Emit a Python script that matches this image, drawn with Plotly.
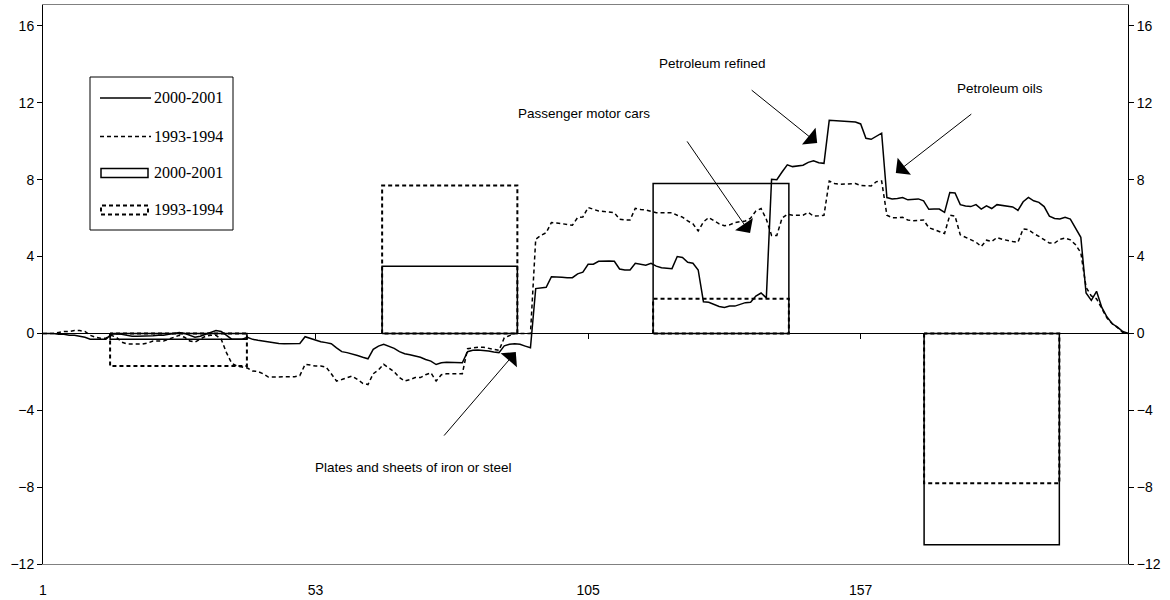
import plotly.graph_objects as go

# ---------------- data ----------------
positions = list(range(1, 209))
tick_values = [1, 53, 105, 157]
tick_labels = ["1", "53", "105", "157"]
y_ticks = [-12, -8, -4, 0, 4, 8, 12, 16]

series_2000_2001 = [
    0, 0, 0, -0.05, -0.05, -0.1, -0.1, -0.15, -0.2, -0.3,
    -0.3, -0.3, -0.3, -0.05, -0.02, -0.05, -0.12, -0.15, -0.15, -0.15,
    -0.15, -0.12, -0.1, -0.1, -0.05, 0, 0.05, 0, -0.1, -0.2,
    -0.15, -0.05, 0.05, 0.15, 0.1, -0.1, -0.3, -0.3, -0.3, -0.2,
    -0.31, -0.36, -0.41, -0.46, -0.5, -0.52, -0.54, -0.54, -0.54, -0.52,
    -0.17, -0.27, -0.36, -0.43, -0.48, -0.54, -0.75, -0.95, -1.0, -1.06,
    -1.15, -1.24, -1.32, -0.83, -0.66, -0.57, -0.66, -0.78, -0.95, -1.06,
    -1.11, -1.18, -1.24, -1.36, -1.44, -1.62, -1.53, -1.5, -1.5, -1.5,
    -1.53, -0.95, -0.88, -0.86, -0.88, -0.92, -0.97, -1.0, -0.65, -0.57,
    -0.54, -0.57, -0.66, -0.75, 2.33, 2.36, 2.4, 2.95, 2.95, 2.92,
    2.9, 2.9, 3.1, 3.19, 3.6, 3.6, 3.75, 3.77, 3.77, 3.75,
    3.35, 3.3, 3.3, 3.65, 3.6, 3.55, 3.65, 3.5, 3.42, 3.38,
    3.37, 4.0, 3.95, 3.7, 3.65, 3.3, 1.65, 1.62, 1.5, 1.4,
    1.35, 1.42, 1.42, 1.52, 1.6, 1.62, 1.94, 2.1, 1.85, 8.02,
    8.0, 8.4, 8.77, 8.68, 8.7, 8.75, 8.9, 8.98, 8.88, 8.85,
    11.09, 11.07, 11.05, 11.05, 11.02, 11.0, 10.9, 10.15, 10.1, 10.25,
    10.42, 7.07, 7.0, 7.02, 7.07, 6.95, 6.98, 7.0, 6.9, 6.46,
    6.47, 6.47, 6.3, 7.33, 7.31, 6.7, 6.63, 6.6, 6.7, 6.47,
    6.64, 6.5, 6.7, 6.65, 6.6, 6.58, 6.4, 6.85, 7.08, 6.9,
    6.82, 6.6, 6.1, 5.98, 5.95, 6.04, 5.95, 5.5, 5.0, 2.1,
    1.72, 2.19, 1.35, 0.85, 0.5, 0.33, 0.1, 0.0,
]

series_1993_1994 = [
    0, 0, 0, 0.05, 0.1, 0.1, 0.15, 0.15, 0.1, -0.1,
    -0.2, -0.25, -0.25, -0.1, -0.2, -0.45, -0.55, -0.55, -0.55, -0.55,
    -0.5, -0.4, -0.4, -0.4, -0.3, -0.2, -0.1, -0.2, -0.4, -0.45,
    -0.3, -0.15, -0.1, -0.1, -0.3, -1.0, -1.55, -1.7, -1.75, -1.8,
    -1.96, -1.98, -2.1, -2.27, -2.27, -2.27, -2.27, -2.27, -2.25, -2.2,
    -1.61, -1.65, -1.7, -1.7, -1.75, -2.1, -2.48, -2.4, -2.3, -2.22,
    -2.4, -2.6, -2.66, -2.1, -1.9, -1.61, -1.8, -2.0, -2.3, -2.48,
    -2.4, -2.3, -2.3, -2.15, -2.05, -2.48, -2.15, -2.1, -2.1, -2.1,
    -2.1, -0.8, -0.75, -0.72, -0.72, -0.78, -0.85, -0.88, -0.23, -0.1,
    0, 0, 0, 0, 4.9, 5.1, 5.24, 5.77, 5.75, 5.7,
    5.65, 5.63, 6.03, 6.06, 6.55, 6.45, 6.37, 6.35, 6.3, 6.28,
    5.94, 5.9, 5.9, 6.51, 6.45, 6.42, 6.35, 6.28, 6.28, 6.28,
    6.28, 6.15, 6.05, 5.85, 5.7, 5.33, 5.8, 6.03, 5.85, 5.7,
    5.6, 5.65, 5.77, 5.8, 5.85, 6.0, 6.37, 6.5, 5.94, 5.1,
    5.1, 6.0, 6.2, 6.15, 6.15, 6.15, 6.3, 6.1, 6.12, 6.15,
    7.93, 7.8, 7.76, 7.78, 7.8, 7.8, 7.7, 7.67, 7.67, 7.9,
    7.93, 6.15, 6.02, 6.02, 6.04, 5.9, 5.86, 5.88, 5.9, 5.5,
    5.4, 5.3, 5.2, 6.15, 6.1, 5.13, 5.0, 4.87, 4.75, 4.52,
    4.85, 4.78, 4.99, 4.9, 4.83, 4.78, 4.74, 5.44, 5.4, 5.2,
    5.05, 4.87, 4.7, 4.7, 4.9, 4.96, 4.87, 4.61, 4.2, 2.4,
    1.95, 1.8, 1.3, 0.8, 0.5, 0.3, 0.05, 0.0,
]

box_start = [13.8, 65.7, 117.4, 169.1]
box_end = [39.9, 91.5, 143.3, 194.9]
box_2000_2001 = [-0.3, 3.5, 7.8, -11.0]
box_1993_1994 = [-1.7, 7.7, 1.8, -7.8]

labels = ["2000-2001", "1993-1994"]

# ---------------- helpers ----------------
def box_path(starts, ends, values):
    xs, ys = [], []
    for s, e, v in zip(starts, ends, values):
        xs += [s, s, e, e, s, None]
        ys += [0, v, v, 0, 0, None]
    return xs, ys

W, H = 1170, 600
ML, MR, MT, MB = 43, 42, 5, 36
PLOT_W = W - ML - MR
PLOT_H = H - MT - MB


def px_x(px):
    return (px - ML) / PLOT_W


def px_y(py):
    return (H - MB - py) / PLOT_H


Y_RANGE = [-12, 17.09]
X_RANGE = [1, 208]
sans = "Liberation Sans, Arial, sans-serif"
serif = "Liberation Serif, Times New Roman, serif"

fig = go.Figure()

fig.add_trace(go.Scatter(
    x=positions, y=series_2000_2001, mode="lines", name=labels[0],
    line=dict(color="black", width=1.5), showlegend=False,
))
fig.add_trace(go.Scatter(
    x=positions, y=series_1993_1994, mode="lines", name=labels[1],
    line=dict(color="black", width=1.5, dash="4px,3px"), showlegend=False,
))
bx, by = box_path(box_start, box_end, box_2000_2001)
fig.add_trace(go.Scatter(
    x=bx, y=by, mode="lines", name=labels[0],
    line=dict(color="black", width=1.5), showlegend=False, xaxis="x2",
))
bx2, by2 = box_path(box_start, box_end, box_1993_1994)
fig.add_trace(go.Scatter(
    x=bx2, y=by2, mode="lines", name=labels[1],
    line=dict(color="black", width=2, dash="4px,3px"), showlegend=False, yaxis="y2",
))

zero_pos = (0 - Y_RANGE[0]) / (Y_RANGE[1] - Y_RANGE[0])
tick_font = dict(family=sans, size=14, color="black")

fig.update_layout(
    width=W, height=H,
    margin=dict(l=ML, r=MR, t=MT, b=MB, autoexpand=False),
    paper_bgcolor="white", plot_bgcolor="white",
    showlegend=False,
    xaxis=dict(
        range=X_RANGE, tickvals=tick_values, ticktext=tick_labels,
        ticks="", showline=True, linecolor="#808080", linewidth=1, mirror=True,
        showgrid=False, zeroline=False, ticklabelstandoff=13,
        tickfont=tick_font,
    ),
    xaxis2=dict(
        range=X_RANGE, overlaying="x", anchor="free", position=zero_pos,
        tickvals=tick_values[1:], showticklabels=False, ticks="outside", ticklen=5,
        tickcolor="black", showline=True, linecolor="black", linewidth=1,
        showgrid=False, zeroline=False,
    ),
    yaxis=dict(
        range=Y_RANGE, tickvals=y_ticks, ticks="outside", ticklen=5,
        tickcolor="black", showline=True, linecolor="black", linewidth=1,
        showgrid=False, zeroline=False, tickfont=tick_font,
    ),
    yaxis2=dict(
        range=Y_RANGE, overlaying="y", side="right", anchor="x",
        tickvals=y_ticks, ticks="outside", ticklen=5,
        tickcolor="black", showline=True, linecolor="black", linewidth=1,
        showgrid=False, zeroline=False, tickfont=tick_font,
    ),
)

# ---------------- legend (drawn box) ----------------
LEG_L, LEG_R, LEG_T, LEG_B = 90, 233, 77, 230
fig.add_shape(type="rect", xref="paper", yref="paper",
              x0=px_x(LEG_L), x1=px_x(LEG_R), y0=px_y(LEG_B), y1=px_y(LEG_T),
              line=dict(color="black", width=1), fillcolor="white", layer="above")
leg_rows = [98, 136.5, 173, 210]
fig.add_shape(type="line", xref="paper", yref="paper",
              x0=px_x(100), x1=px_x(151), y0=px_y(leg_rows[0]), y1=px_y(leg_rows[0]),
              line=dict(color="black", width=1.5), layer="above")
fig.add_shape(type="line", xref="paper", yref="paper",
              x0=px_x(100), x1=px_x(151), y0=px_y(leg_rows[1]), y1=px_y(leg_rows[1]),
              line=dict(color="black", width=1.5, dash="4px,3px"), layer="above")
fig.add_shape(type="rect", xref="paper", yref="paper",
              x0=px_x(101), x1=px_x(148), y0=px_y(leg_rows[2] + 4.5), y1=px_y(leg_rows[2] - 4.5),
              line=dict(color="black", width=1.5), layer="above")
fig.add_shape(type="rect", xref="paper", yref="paper",
              x0=px_x(101), x1=px_x(148), y0=px_y(leg_rows[3] + 4.5), y1=px_y(leg_rows[3] - 4.5),
              line=dict(color="black", width=2, dash="4px,3px"), layer="above")
for row, name in zip(leg_rows, [labels[0], labels[1], labels[0], labels[1]]):
    fig.add_annotation(xref="paper", yref="paper", x=px_x(152), y=px_y(row),
                       text=name, showarrow=False, xanchor="left", yanchor="middle",
                       font=dict(family=serif, size=16, color="black"))

# ---------------- annotations ----------------
text_font = dict(family=sans, size=13.5, color="black")
notes = [
    ("Petroleum refined", 128.8, 14.07),
    ("Passenger motor cars", 104.2, 11.47),
    ("Petroleum oils", 183.6, 12.77),
    ("Plates and sheets of iron or steel", 71.6, -7.0),
]
for t, x, y in notes:
    fig.add_annotation(x=x, y=y, text=t, showarrow=False, font=text_font,
                       xanchor="center", yanchor="middle")

arrows = [
    (148.7, 9.91, -67, -54),
    (135.9, 5.23, -64, -93),
    (163.7, 8.35, 77, -60),
    (91.2, -0.97, -73, 85),
]
for x, y, ax, ay in arrows:
    fig.add_annotation(x=x, y=y, ax=ax, ay=ay, text="", showarrow=True,
                       arrowhead=1, arrowsize=3.6, arrowwidth=1, arrowcolor="black",
                       standoff=0, startstandoff=0)

fig.write_html("out.html", config={"displayModeBar": False},
               post_script="document.body.style.margin='0';")
